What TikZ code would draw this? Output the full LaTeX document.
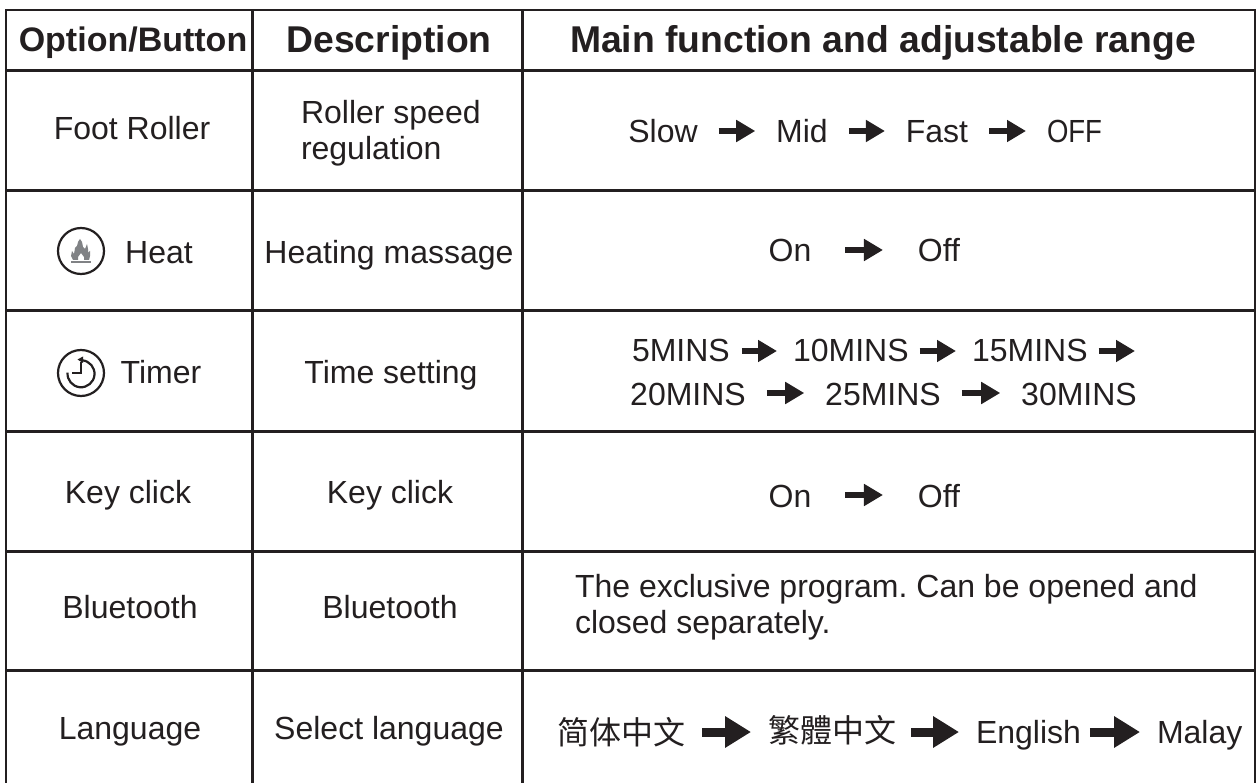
\documentclass[tikz,border=0pt]{standalone}
\usepackage{graphicx}
\usepackage{fontspec}
\setmainfont{Liberation Sans}
\newfontfamily\cjksc{Noto Sans CJK SC}
\newfontfamily\cjktc{Noto Sans CJK TC}
\usetikzlibrary{arrows.meta}
\definecolor{ink}{HTML}{231F20}
\definecolor{flame}{HTML}{808285}
\tikzset{
  x=1pt,y=-1pt,
  txt/.style={inner sep=0pt,outer sep=0pt,text=ink,anchor=base,font=\fontsize{32}{36}\selectfont},
  head/.style={txt,font=\fontsize{34}{38}\bfseries\selectfont},
  headwide/.style={txt,font=\fontsize{37.3}{40}\bfseries\selectfont},
  grid/.style={draw=ink,line width=3pt},
  frame/.style={draw=ink,line width=2pt},
  flow/.style={draw=ink,line width=6pt,-{Triangle[length=19pt,width=21pt]},shorten <=21pt,shorten >=21pt},
  bigflow/.style={draw=ink,line width=9pt,-{Triangle[length=26pt,width=30pt]},shorten <=15pt,shorten >=17pt},
  icon/.style={draw=ink,line width=2.2pt,fill=white},
}
\frenchspacing
\begin{document}
\begin{tikzpicture}
\useasboundingbox[fill=white] (0,0) rectangle (1258,783);
% grid
\draw[frame] (6,783) -- (6,10) -- (1255,10) -- (1255,783);
\foreach \yy in {71,191,311,431,551,670} \draw[grid] (6,\yy) -- (1255,\yy);
\foreach \xx in {252,522} \draw[grid] (\xx,10) -- (\xx,783);
% header
\node[head] (h1) at (133,52) {Option/Button};
\node[headwide] (h2) at (389,53) {Description};
\node[headwide] (h3) at (883,53) {Main function and adjustable range};
% row 1
\node[txt] (r1a) at (132,140) {Foot Roller};
\node[txt,align=left,anchor=west] (r1b) at (301,133) {Roller speed\\regulation};
\node[txt] (s1) at (663,143) {Slow};
\node[txt] (s2) at (802,143) {Mid};
\node[txt] (s3) at (937,143) {Fast};
\node[txt,anchor=base west] (s4) at (1047,143) {\scalebox{0.86}[1]{OFF}};
\draw[flow] (s1.east |- 0,131) -- (s2.west |- 0,131);
\draw[flow] (s2.east |- 0,131) -- (s3.west |- 0,131);
\draw[flow] (s3.east |- 0,131) -- (s4.west |- 0,131);
% row 2
\node[icon,circle,minimum size=46pt,inner sep=0pt] (heaticon) at (81,251) {};
\fill[flame] (80,239) -- (82,242) -- (83,247) -- (85,249) -- (87,244) -- (88,249) -- (88,253) -- (90,251) -- (90,256) -- (89,260) -- (84,260) -- (84,257) -- (81,253) -- (78,257) -- (78,260) -- (73,260) -- (71,256) -- (72,251) -- (74,254) -- (75,248) -- (77,246) -- (78,242) -- cycle;
\fill[flame] (71,261.5) rectangle (91,263.5);
\node[txt] (r2a) at (159,264) {Heat};
\node[txt] (r2b) at (389,264) {Heating massage};
\node[txt] (on1) at (790,262) {On};
\node[txt] (off1) at (939,262) {Off};
\draw[flow,shorten <=34pt,shorten >=35pt] (on1.east |- 0,250) -- (off1.west |- 0,250);
% row 3
\node[icon,circle,minimum size=46pt,inner sep=0pt] (clockicon) at (81,373) {};
\draw[ink,line width=2.2pt] (82.2,360.3) arc[start angle=85,end angle=-185,radius=13.5pt];
\fill[ink] (77.5,359.5) -- (83,356.5) -- (83,363) -- cycle;
\draw[ink,line width=2.2pt] (81,362) -- (81,373) -- (72,373);
\node[txt] (r3a) at (161,384) {Timer};
\node[txt] (r3b) at (391,384) {Time setting};
\node[txt,anchor=base west] (t1) at (632,362) {5MINS};
\node[txt,anchor=base west] (t2) at (793,362) {10MINS};
\node[txt,anchor=base west] (t3) at (972,362) {15MINS};
\coordinate (t4) at (1135,351);
\node[txt] (t5) at (688,405) {20MINS};
\node[txt] (t6) at (883,405) {25MINS};
\node[txt] (t7) at (1079,405) {30MINS};
\draw[flow,shorten <=12pt,shorten >=16pt] (t1.east |- 0,351) -- (t2.west |- 0,351);
\draw[flow,shorten <=11pt,shorten >=16pt] (t2.east |- 0,351) -- (t3.west |- 0,351);
\draw[flow,shorten <=11pt,shorten >=0pt] (t3.east |- 0,351) -- (t4);
\draw[flow] (t5.east |- 0,393) -- (t6.west |- 0,393);
\draw[flow] (t6.east |- 0,393) -- (t7.west |- 0,393);
% row 4
\node[txt] (r4a) at (128,503) {Key click};
\node[txt] (r4b) at (390,503) {Key click};
\node[txt] (on2) at (790,507) {On};
\node[txt] (off2) at (939,507) {Off};
\draw[flow,shorten <=34pt,shorten >=35pt] (on2.east |- 0,495) -- (off2.west |- 0,495);
% row 5
\node[txt] (r5a) at (130,618) {Bluetooth};
\node[txt] (r5b) at (390,618) {Bluetooth};
\node[txt,align=left,anchor=west] (r5c) at (575,607) {The exclusive program. Can be opened and\\closed separately.};
% row 6
\node[txt] (r6a) at (130,739) {Language};
\node[txt] (r6b) at (389,739) {Select language};
\node[txt,anchor=base west] (l1) at (557,744) {\cjksc 简体中文};
\node[txt,anchor=base west] (l2) at (768,742) {\cjktc 繁體中文};
\node[txt,anchor=base west] (l3) at (976,743) {English};
\node[txt,anchor=base west] (l4) at (1157,743) {Malay};
\draw[bigflow,shorten <=17pt,shorten >=17pt] (l1.east |- 0,732) -- (l2.west |- 0,732);
\draw[bigflow] (l2.east |- 0,732) -- (l3.west |- 0,732);
\draw[bigflow,shorten <=9pt] (l3.east |- 0,732) -- (l4.west |- 0,732);
\end{tikzpicture}
\end{document}
